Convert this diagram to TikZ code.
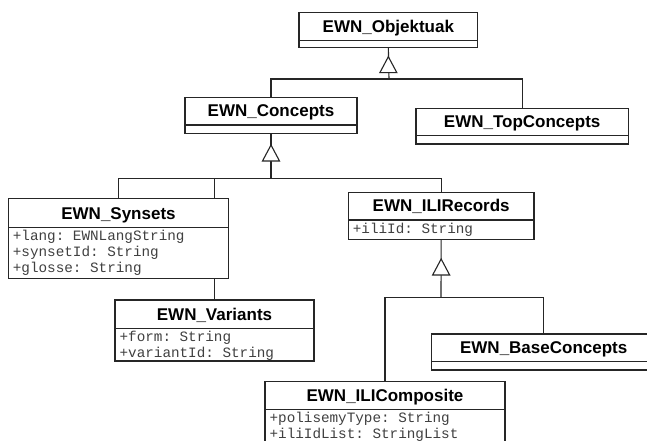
\documentclass[tikz,border=0pt]{standalone}
\usepackage{fontspec}
\setmainfont{Liberation Sans}
\setmonofont{Liberation Mono}
\usetikzlibrary{calc}

\tikzset{
  line/.style={draw=black!85, line width=1.1pt},
  ctitle/.style={inner sep=0pt, anchor=base, font=\fontsize{17}{20}\selectfont\bfseries},
  attr/.style={inner sep=0pt, anchor=base west, text=black!75,
               font=\fontsize{14.3}{16}\selectfont\ttfamily},
  gentri/.pic={\draw[line, fill=white] (0,0) -- (8.5,16) -- (-8.5,16) -- cycle;}
}

% \umlbox{name}{left}{top}{right}{title rule}{bottom}{title}
\newcommand{\umlbox}[7]{%
  \draw[line, fill=white] (#2,#3) rectangle (#4,#6);
  \coordinate (#1-north) at ({(#2+#4)/2},#3);
  \coordinate (#1-south) at ({(#2+#4)/2},#6);
  \node[ctitle] (#1) at ({(#2+#4)/2},{#5-8.3}) {#7};
  \draw[line] (#2,#5) -- (#4,#5);
  \coordinate (#1-a) at ({#2+4.4},{#5+13.5});
}

\begin{document}
\begin{tikzpicture}[x=1pt, y=-1pt]
  \clip (0,0) rectangle (647,441);
  \fill[white] (0,0) rectangle (647,441);

  % junction points of the generalisation trees
  \coordinate (j1) at (389,79);
  \coordinate (j2) at (271,178.5);
  \coordinate (j3) at (441,297.7);

  % branch to EWN_Variants runs behind EWN_Synsets
  \umlbox{var}{115}{300}{314}{328.3}{361}{EWN\_Variants}
  \draw[line] (var-north |- j2) -- (var-north);
  \node[attr] (var-1) at (var-a) {+form: String};
  \node[attr] (var-2) at ($(var-a)+(0,15.5)$) {+variantId: String};

  \umlbox{obj}{299}{12.3}{477.7}{40.7}{47.7}{EWN\_Objektuak}
  \umlbox{con}{185}{97.3}{357}{125}{133.3}{EWN\_Concepts}
  \umlbox{top}{416}{108.3}{628.3}{135.7}{144}{EWN\_TopConcepts}
  \umlbox{syn}{8.3}{198.3}{228.7}{227.3}{278.3}{EWN\_Synsets}
  \node[attr] (syn-1) at (syn-a) {+lang: EWNLangString};
  \node[attr] (syn-2) at ($(syn-a)+(0,16)$) {+synsetId: String};
  \node[attr] (syn-3) at ($(syn-a)+(0,32)$) {+glosse: String};
  \umlbox{ili}{348.3}{192.3}{534}{220}{239.3}{EWN\_ILIRecords}
  \node[attr] (ili-1) at (ili-a) {+iliId: String};
  \umlbox{base}{431.7}{334}{655.7}{361.7}{370}{EWN\_BaseConcepts}
  \umlbox{comp}{265}{381.7}{505}{409.3}{470}{EWN\_ILIComposite}
  \node[attr] (comp-1) at (comp-a) {+polisemyType: String};
  \node[attr] (comp-2) at ($(comp-a)+(0,16)$) {+iliIdList: StringList};

  % generalisation connectors
  \draw[line] (obj-south) -- (j1);
  \draw[line] (con-north) -- (con-north |- j1) -| (top-north);
  \pic at ($(obj-south)+(0,9)$) {gentri};

  \draw[line] (con-south) -- (j2);
  \draw[line] (syn-north) -- (syn-north |- j2) -| (ili-north);
  \pic at ($(con-south)+(0,11.7)$) {gentri};

  \draw[line] (ili-south) -- (j3);
  \draw[line] (comp-north) -- (comp-north |- j3) -| (base-north);
  \pic at ($(ili-south)+(0,19.7)$) {gentri};
\end{tikzpicture}
\end{document}
